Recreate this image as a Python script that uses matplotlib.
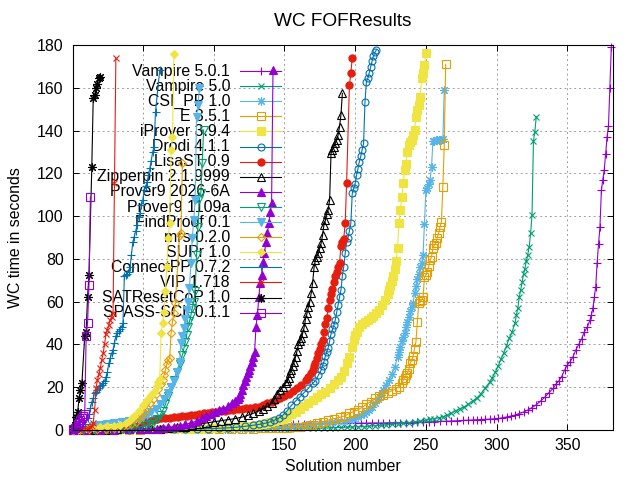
import matplotlib
matplotlib.use("Agg")
import matplotlib.pyplot as plt

plt.rcParams.update({
    "font.family": ["Liberation Sans", "DejaVu Sans"],
    "font.size": 11.4,
})

vampire_501 = [(1, 0.1), (4, 0.1), (8, 0.1), (12, 0.15), (16, 0.15), (20, 0.2), (25, 0.2), (30, 0.2),
               (35, 0.25), (40, 0.3), (45, 0.3), (50, 0.35), (55, 0.4), (60, 0.4), (65, 0.45), (70, 0.5),
               (75, 0.5), (80, 0.55), (85, 0.6), (90, 0.65), (95, 0.7), (100, 0.8), (104, 0.85), (108, 0.9),
               (112, 1.0), (116, 1.1), (120, 1.2), (124, 1.3), (128, 1.4), (132, 1.6), (136, 1.8), (140, 2.0),
               (144, 2.2), (148, 2.4), (152, 2.6), (156, 2.7), (160, 2.8), (164, 2.8), (168, 2.9), (172, 2.9),
               (176, 3.0), (180, 3.0), (184, 3.0), (188, 3.1), (192, 3.1), (196, 3.1), (200, 3.2), (204, 3.2),
               (208, 3.2), (212, 3.3), (216, 3.3), (220, 3.3), (224, 3.4), (228, 3.4), (232, 3.4), (236, 3.5),
               (240, 3.5), (244, 3.6), (248, 3.7), (252, 3.8), (256, 3.9), (260, 4.0), (264, 4.1), (268, 4.2),
               (272, 4.3), (276, 4.5), (280, 4.6), (283, 4.7), (286, 4.8), (289, 4.9), (292, 5.0), (295, 5.1),
               (298, 5.2), (301, 5.4), (304, 5.7), (307, 6.1), (310, 6.5), (313, 7.0), (316, 7.7), (319, 8.4),
               (322, 9.3), (325, 10.5), (328, 11.8), (331, 13.5), (334, 15.3), (337, 17.5), (340, 19.5),
               (342, 21.5), (344, 23.0), (346, 25.0), (348, 28.0), (350, 30.5), (352, 32.0), (354, 34.3),
               (356, 37.5), (358, 40.0), (360, 42.5), (362, 46.0), (364, 48.0), (366, 51.5), (367, 54.0),
               (368, 57.0), (369, 62.0), (370, 67.0), (371, 78.0), (372, 87.0), (373, 95.0), (374, 112.0),
               (375, 117.0), (376, 121.5), (377, 129.0), (378, 137.0), (379, 142.0), (380, 160.0), (381, 179.0)]

vampire_50 = [(1, 0.1), (5, 0.1), (10, 0.1), (15, 0.15), (20, 0.15), (25, 0.15), (30, 0.2), (35, 0.2),
              (40, 0.2), (45, 0.2), (50, 0.25), (55, 0.25), (60, 0.3), (65, 0.3), (70, 0.3), (75, 0.35),
              (80, 0.35), (85, 0.4), (90, 0.4), (95, 0.4), (100, 0.45), (105, 0.45), (110, 0.5), (115, 0.5),
              (120, 0.5), (125, 0.55), (130, 0.55), (135, 0.6), (140, 0.6), (145, 0.6), (150, 0.65), (154, 0.7),
              (158, 0.75), (162, 0.8), (166, 0.85), (170, 0.85), (174, 0.9), (178, 0.95), (182, 1.0), (186, 1.1),
              (190, 1.2), (194, 1.3), (198, 1.4), (202, 1.5), (206, 1.6), (210, 1.8), (214, 2.0), (218, 2.2),
              (222, 2.4), (226, 2.6), (230, 2.9), (234, 3.2), (238, 3.5), (242, 3.8), (246, 4.2), (250, 4.6),
              (253, 5.0), (256, 5.3), (259, 5.7), (262, 6.2), (265, 6.9), (268, 7.8), (271, 9.0), (274, 10.0),
              (277, 10.8), (280, 12.0), (283, 13.5), (286, 15.0), (289, 17.0), (292, 19.8), (295, 22.3),
              (297, 24.5), (299, 27.0), (301, 29.8), (303, 33.0), (305, 36.0), (307, 39.5), (309, 43.0),
              (311, 46.0), (313, 50.0), (314, 54.0), (315, 57.0), (316, 62.0), (317, 65.5), (318, 69.0),
              (319, 73.0), (320, 75.5), (321, 79.0), (322, 82.0), (323, 85.7), (324, 92.0), (325, 100.5),
              (326, 135.0), (327, 139.5), (328, 146.5)]

csi_pp = [(1, 0.1), (6, 0.1), (12, 0.15), (18, 0.15), (24, 0.2), (30, 0.2), (36, 0.25), (42, 0.25),
          (48, 0.3), (54, 0.3), (60, 0.35), (66, 0.35), (72, 0.4), (78, 0.4), (84, 0.45), (90, 0.5),
          (96, 0.5), (102, 0.6), (108, 0.7), (114, 0.8), (120, 0.9), (126, 1.0), (132, 1.1), (138, 1.3),
          (144, 1.5), (150, 1.7), (155, 1.9), (160, 2.1), (165, 2.4), (170, 2.7), (175, 3.0), (180, 3.3),
          (184, 3.7), (188, 4.1), (192, 4.4), (196, 4.8), (199, 5.2), (202, 6.0), (204, 6.8), (206, 7.6),
          (208, 8.5), (210, 9.5), (212, 10.8), (214, 12.5), (216, 14.5), (218, 16.5), (220, 18.5),
          (222, 21.0), (224, 23.5), (226, 26.0), (228, 29.5), (230, 34.0), (231, 36.5), (232, 39.0),
          (233, 41.5), (234, 43.5), (235, 45.5), (236, 48.0), (237, 50.5), (238, 53.0), (239, 55.5),
          (240, 57.5), (241, 59.5), (242, 64.0), (243, 67.5), (244, 70.5), (245, 73.0), (246, 76.0),
          (247, 78.0), (248, 82.0), (249, 96.5), (250, 112.0), (251, 113.0), (252, 115.0), (253, 117.0),
          (254, 123.0), (255, 135.0), (256, 135.2), (257, 135.4), (258, 135.5), (259, 135.6), (260, 135.7),
          (261, 135.8), (262, 136.0), (263, 159.0)]

e_351 = [(1, 0.1), (8, 0.1), (16, 0.1), (24, 0.15), (32, 0.15), (40, 0.2), (48, 0.2), (56, 0.25),
         (64, 0.25), (72, 0.3), (80, 0.3), (88, 0.35), (96, 0.4), (104, 0.45), (112, 0.5), (120, 0.6),
         (128, 0.7), (134, 0.8), (140, 0.9), (146, 1.0), (152, 1.1), (157, 1.3), (161, 1.6), (165, 2.0),
         (169, 2.5), (173, 3.1), (177, 3.8), (181, 4.6), (185, 5.3), (189, 5.9), (193, 6.7), (196, 7.8),
         (199, 8.6), (202, 9.4), (205, 10.6), (208, 12.0), (211, 13.3), (214, 14.8), (217, 15.8),
         (220, 16.5), (223, 17.4), (226, 18.4), (229, 19.4), (231, 20.3), (233, 22.0), (234, 23.4),
         (235, 24.5), (236, 25.5), (237, 26.8), (238, 28.5), (239, 31.5), (240, 32.5), (241, 34.5),
         (242, 38.0), (243, 41.3), (244, 50.6), (245, 59.5), (246, 60.2), (247, 60.8), (248, 62.0),
         (249, 71.5), (250, 72.5), (251, 74.0), (252, 76.5), (253, 79.5), (254, 81.0), (255, 85.0),
         (256, 86.5), (257, 87.3), (258, 90.0), (259, 92.0), (260, 95.0), (261, 97.4), (262, 113.7),
         (263, 133.2), (264, 171.0)]

iprover = [(1, 0.1), (8, 0.1), (16, 0.15), (24, 0.15), (32, 0.2), (40, 0.2), (48, 0.25), (56, 0.3),
           (64, 0.35), (72, 0.4), (80, 0.5), (86, 0.6), (92, 0.7), (98, 0.8), (104, 1.0), (110, 1.2),
           (115, 1.4), (120, 1.7), (125, 2.0), (130, 2.3), (134, 2.7), (137, 3.1), (140, 3.6), (143, 4.1),
           (146, 4.6), (149, 5.3), (152, 6.1), (155, 7.3), (158, 8.6), (161, 9.8), (164, 11.2), (167, 12.4),
           (170, 14.0), (173, 15.2), (176, 16.6), (179, 18.0), (182, 19.6), (185, 21.5), (188, 23.4),
           (190, 25.0), (192, 27.5), (194, 31.2), (196, 34.3), (198, 39.0), (199, 42.0), (200, 44.5),
           (201, 46.0), (203, 48.0), (205, 49.5), (207, 50.5), (209, 51.4), (211, 52.5), (213, 53.5),
           (215, 54.5), (217, 56.0), (219, 58.5), (221, 61.0), (223, 63.5), (224, 65.5), (225, 67.5),
           (226, 69.5), (227, 72.0), (228, 75.5), (229, 79.0), (230, 85.0), (231, 96.6), (232, 103.0),
           (233, 109.0), (234, 115.3), (235, 121.5), (236, 124.5), (237, 130.0), (238, 133.2), (239, 134.5),
           (240, 135.6), (241, 138.0), (242, 140.3), (243, 146.5), (244, 149.5), (245, 152.0), (246, 155.8),
           (247, 164.4), (248, 167.0), (249, 170.6), (250, 176.4)]

drodi = [(1, 0.1), (8, 0.1), (16, 0.15), (24, 0.15), (32, 0.2), (40, 0.2), (48, 0.25), (56, 0.3),
         (64, 0.35), (72, 0.4), (80, 0.45), (88, 0.5), (96, 0.6), (104, 0.8), (110, 1.0), (116, 1.3),
         (122, 1.7), (128, 2.2), (132, 2.6), (136, 3.1), (140, 3.8), (143, 4.6), (146, 5.5), (149, 7.0),
         (152, 9.0), (155, 11.5), (158, 13.5), (161, 15.5), (164, 17.5), (167, 19.5), (170, 21.8),
         (172, 23.0), (174, 25.5), (176, 28.0), (177, 30.0), (178, 32.0), (179, 34.5), (180, 36.5),
         (181, 38.5), (182, 41.5), (183, 45.0), (184, 47.0), (185, 49.0), (186, 51.4), (187, 55.0),
         (188, 58.5), (189, 62.0), (190, 65.5), (191, 72.0), (192, 76.4), (193, 82.6), (194, 88.0),
         (195, 90.0), (196, 93.0), (197, 96.6), (198, 110.6), (199, 113.0), (200, 115.0), (201, 119.0),
         (202, 122.0), (203, 125.5), (204, 128.0), (205, 131.0), (206, 134.0), (207, 153.5), (208, 162.9),
         (209, 164.4), (210, 167.0), (211, 169.8), (212, 172.5), (213, 175.0), (214, 176.5), (215, 177.6)]

lisast = [(1, 0.1), (6, 0.15), (12, 0.2), (18, 0.3), (24, 0.4), (30, 0.6), (36, 0.9), (40, 1.3),
          (44, 2.0), (48, 3.0), (51, 3.8), (54, 4.4), (57, 4.8), (60, 5.1), (63, 5.4), (66, 5.6), (69, 5.8),
          (72, 6.0), (75, 6.2), (78, 6.4), (81, 6.6), (84, 6.9), (87, 7.2), (90, 7.5), (93, 7.8), (96, 8.1),
          (99, 8.4), (102, 8.6), (105, 8.8), (108, 9.0), (111, 9.3), (114, 9.5), (117, 9.8), (120, 10.0),
          (123, 10.3), (126, 10.5), (129, 10.7), (132, 10.9), (135, 11.6), (138, 12.4), (141, 13.2),
          (144, 14.0), (147, 14.8), (150, 16.0), (153, 17.0), (156, 18.2), (159, 19.6), (162, 21.0),
          (165, 23.2), (167, 24.8), (169, 26.8), (170, 28.0), (171, 29.8), (172, 31.5), (173, 33.5),
          (174, 35.8), (175, 38.0), (176, 40.0), (177, 42.0), (178, 46.0), (179, 49.5), (180, 52.5),
          (181, 57.0), (182, 60.8), (183, 63.5), (184, 66.0), (185, 69.0), (186, 72.0), (187, 74.0),
          (188, 76.0), (189, 78.0), (190, 86.0), (191, 88.0), (192, 89.5), (193, 96.6), (194, 115.3),
          (196, 161.3), (197, 167.0), (198, 173.8)]

zipperpin = [(1, 0.1), (8, 0.1), (16, 0.15), (24, 0.2), (32, 0.25), (40, 0.3), (48, 0.4), (56, 0.5),
             (62, 0.7), (68, 0.9), (74, 1.2), (80, 1.6), (85, 2.2), (90, 2.8), (95, 3.3), (100, 3.8),
             (105, 4.3), (110, 4.8), (115, 5.3), (120, 6.0), (124, 6.8), (128, 7.8), (132, 9.0), (135, 10.0),
             (138, 11.0), (141, 12.5), (143, 14.5), (145, 17.0), (147, 18.5), (149, 20.0), (151, 21.8),
             (152, 23.0), (153, 24.5), (154, 26.5), (155, 28.0), (156, 30.0), (157, 32.0), (158, 34.3),
             (159, 37.0), (160, 40.0), (161, 41.4), (162, 43.0), (163, 45.2), (164, 48.0), (165, 52.0),
             (166, 54.5), (167, 57.5), (168, 60.0), (169, 64.0), (170, 68.6), (171, 76.0), (172, 79.5),
             (173, 81.0), (174, 82.6), (175, 85.0), (176, 87.3), (177, 91.0), (178, 96.0), (179, 98.0),
             (180, 101.0), (181, 103.0), (182, 107.5), (183, 129.4), (184, 131.0), (185, 132.4),
             (186, 134.0), (187, 135.6), (188, 137.9), (189, 141.8), (190, 147.3), (191, 157.4)]

prover9_2026 = [(1, 0.1), (10, 0.1), (20, 0.15), (30, 0.2), (40, 0.25), (48, 0.3), (54, 0.4), (60, 0.6),
                (64, 0.9), (68, 1.2), (72, 1.6), (76, 2.1), (80, 2.7), (84, 3.3), (88, 4.2), (92, 5.5),
                (95, 6.5), (98, 7.3), (101, 8.3), (104, 9.2), (107, 10.0), (110, 11.0), (113, 12.5),
                (115, 13.5), (117, 14.5), (118, 15.5), (119, 17.0), (120, 18.7), (121, 21.0), (122, 23.0),
                (123, 24.9), (124, 26.5), (125, 28.0), (126, 30.0), (127, 32.0), (128, 34.0), (129, 36.6),
                (130, 48.3), (131, 53.8), (132, 62.3), (133, 68.6), (134, 72.5), (135, 78.7), (136, 82.6),
                (137, 88.0), (138, 92.0), (139, 96.6), (140, 102.0), (141, 106.0), (142, 168.3)]

prover9_1109 = [(1, 0.1), (8, 0.1), (16, 0.15), (24, 0.2), (30, 0.3), (36, 0.5), (40, 0.7), (44, 1.0),
                (48, 1.5), (52, 2.2), (55, 3.0), (58, 4.0), (60, 5.0), (62, 6.8), (64, 9.0), (66, 12.0),
                (68, 16.0), (70, 20.0), (72, 23.5), (74, 27.0), (76, 31.0), (78, 35.0), (79, 38.0),
                (80, 41.0), (81, 44.5), (82, 48.0), (83, 51.0), (84, 53.5), (85, 57.0), (86, 60.0),
                (87, 65.0), (88, 81.8), (89, 95.0), (90, 108.0), (91, 110.6), (92, 125.0), (93, 140.3)]

findproof = [(1, 0.2), (5, 0.5), (10, 1.0), (15, 1.8), (20, 2.5), (25, 3.0), (30, 3.3), (35, 3.6),
             (40, 4.0), (44, 4.6), (47, 5.3), (50, 6.0), (53, 7.2), (56, 8.5), (59, 10.0), (62, 12.0),
             (65, 14.5), (68, 17.5), (70, 20.0), (72, 23.0), (74, 27.0), (76, 32.0), (77, 40.5), (78, 44.0),
             (79, 47.5), (80, 52.0), (81, 56.0), (82, 60.0), (83, 66.4), (84, 78.0), (85, 89.7), (86, 98.0),
             (87, 107.5), (88, 146.5), (89, 152.0), (90, 159.7)]

mrs = [(1, 0.1), (6, 0.2), (12, 0.3), (18, 0.5), (24, 0.7), (30, 1.0), (35, 1.5), (39, 2.2), (42, 3.0),
       (45, 3.9), (47, 5.2), (49, 6.8), (51, 8.6), (53, 10.5), (55, 12.5), (57, 14.5), (59, 16.8),
       (61, 19.0), (63, 21.5), (64, 23.4), (65, 25.5), (66, 28.0), (67, 31.0), (68, 32.7), (69, 33.5),
       (70, 45.2), (71, 50.7), (72, 54.5), (73, 59.2), (76, 91.0), (77, 92.0), (78, 124.7)]

supr = [(1, 0.1), (5, 0.3), (10, 0.8), (15, 1.2), (20, 1.5), (25, 1.8), (30, 2.0), (34, 2.3), (38, 3.2),
        (41, 4.8), (44, 6.5), (47, 8.8), (50, 11.5), (53, 14.0), (56, 16.5), (58, 18.0), (60, 20.5),
        (61, 22.5), (62, 24.0), (63, 45.5), (64, 49.9), (65, 55.0), (66, 65.0), (67, 76.4), (68, 90.0),
        (69, 97.0), (70, 131.0), (71, 137.0), (72, 175.8)]

connectpp = [(1, 0.2), (3, 0.5), (5, 1.0), (7, 1.8), (9, 3.0), (11, 5.5), (12, 7.5), (13, 10.1),
             (14, 13.2), (15, 15.0), (16, 17.1), (17, 18.0), (18, 18.7), (19, 19.5), (20, 20.5), (21, 21.2),
             (22, 21.8), (23, 23.0), (24, 24.9), (25, 27.0), (26, 31.2), (27, 33.5), (28, 35.8), (29, 37.5),
             (30, 40.5), (31, 44.0), (32, 45.5), (33, 46.1), (34, 47.2), (35, 48.3), (36, 50.0), (37, 72.0),
             (38, 72.5), (39, 73.0), (40, 74.0), (41, 76.0), (42, 82.0), (43, 88.0), (44, 90.4), (45, 93.0),
             (46, 96.0), (47, 99.5), (48, 101.5), (49, 105.0), (50, 107.5), (51, 112.0), (52, 114.0),
             (53, 116.0), (54, 119.0), (55, 122.5), (56, 126.0), (57, 130.0), (58, 132.5), (59, 148.8),
             (62, 168.3)]

vip = [(1, 0.2), (3, 0.3), (5, 0.4), (7, 0.5), (9, 0.7), (11, 0.9), (13, 1.2), (14, 1.8), (15, 3.5),
       (16, 9.4), (17, 19.6), (18, 23.4), (19, 26.0), (20, 28.8), (21, 32.7), (22, 35.8), (23, 40.0),
       (24, 45.0), (25, 46.8), (26, 49.0), (27, 51.4), (28, 53.0), (29, 54.5), (30, 115.3), (31, 173.8)]

satresetcop = [(1, 0.5), (2, 2.5), (3, 6.2), (4, 8.6), (5, 14.8), (6, 18.7), (7, 21.8), (9, 44.0),
               (10, 46.0), (11, 62.3), (12, 72.5), (14, 123.0), (15, 155.2), (16, 156.5), (17, 159.7),
               (18, 162.0), (19, 164.4), (20, 165.0)]

spass_scl = [(1, 0.3), (2, 0.8), (3, 1.5), (4, 2.5), (5, 3.5), (6, 4.5), (7, 5.5), (8, 6.5), (9, 7.5),
             (10, 43.9), (11, 49.9), (12, 67.8), (13, 109.0)]

SERIES = [
    ("Vampire 5.0.1", vampire_501),
    ("Vampire 5.0", vampire_50),
    ("CSI_PP 1.0", csi_pp),
    ("E 3.5.1", e_351),
    ("iProver 3.9.4", iprover),
    ("Drodi 4.1.1", drodi),
    ("LisaST 0.9", lisast),
    ("Zipperpin 2.1.9999", zipperpin),
    ("Prover9 2026-6A", prover9_2026),
    ("Prover9 1109a", prover9_1109),
    ("FindProof 0.1", findproof),
    ("mrs 0.2.0", mrs),
    ("SUPr 1.0", supr),
    ("ConnectPP 0.7.2", connectpp),
    ("VIP 1.718", vip),
    ("SATResetCoP 1.0", satresetcop),
    ("SPASS-SCL 0.1.1", spass_scl),
]

# gnuplot default line colours and point types (marker, filled, size)
COLORS = ["#9400d3", "#009e73", "#56b4e9", "#e69f00", "#f0e442", "#0072b2", "#e51e10", "#000000"]
POINTS = [("+", True, 6.3), ("x", True, 5.0), ((8, 2, 0), True, 6.2), ("s", False, 5.4), ("s", True, 5.8),
          ("o", False, 5.0), ("o", True, 5.2), ("^", False, 6.3), ("^", True, 6.3), ("v", False, 6.3),
          ("v", True, 6.3), ("D", False, 4.2), ("D", True, 4.2)]

# plot frame in pixels of the 640x480 canvas
AX_L, AX_R, AX_T, AX_B = 72.7, 612.7, 45.0, 430.0
W, H = 640, 480


def frac(px, py):
    return (px - AX_L) / (AX_R - AX_L), (AX_B - py) / (AX_B - AX_T)


fig, ax = plt.subplots(figsize=(6.4, 4.8), dpi=100)
fig.subplots_adjust(left=AX_L / W, right=AX_R / W, bottom=1 - AX_B / H, top=1 - AX_T / H)

for i, (label, pts) in enumerate(SERIES):
    color = COLORS[i % len(COLORS)]
    marker, filled, ms = POINTS[i % len(POINTS)]
    style = dict(color=color, linewidth=0.8, marker=marker, markersize=ms, markeredgewidth=0.8,
                 markerfacecolor=color if filled else "none", markeredgecolor=color, clip_on=False)
    xs = [p[0] for p in pts]
    ys = [p[1] for p in pts]
    ax.plot(xs, ys, **style)

    # gnuplot-style key: right-justified text, then a sample line with one point
    row_y = 71.0 + 15.1 * i
    tx, ty = frac(230, row_y + 4.6)
    ax.text(tx, ty, label, transform=ax.transAxes, ha="right", va="baseline", zorder=1.5)
    x0, y0 = frac(240, row_y)
    x1, _ = frac(281, row_y)
    xm, _ = frac(260.5, row_y)
    ax.plot([x0, x1], [y0, y0], transform=ax.transAxes, color=color, linewidth=0.8, clip_on=False)
    ax.plot([xm], [y0], transform=ax.transAxes, linestyle="none", **{k: v for k, v in style.items()
                                                                      if k not in ("linewidth",)})

ax.set_xlim(0.5, 382)
ax.set_ylim(0, 180)
ax.set_xticks([50, 100, 150, 200, 250, 300, 350])
ax.set_yticks(range(0, 181, 20))
ax.tick_params(direction="in", top=True, right=True, length=4.5, width=0.7)
ax.tick_params(axis="y", pad=6.5)
ax.tick_params(axis="x", pad=6)
ax.grid(True, color="#a0a0a0", linestyle=(0, (2, 3)), linewidth=0.7)
ax.set_axisbelow(True)
for sp in ax.spines.values():
    sp.set_linewidth(0.8)

ax.set_title("WC FOFResults", pad=14)
ax.set_xlabel("Solution number", labelpad=4)
ax.set_ylabel("WC time in seconds", labelpad=10)

fig.savefig("out.png", dpi=100)
